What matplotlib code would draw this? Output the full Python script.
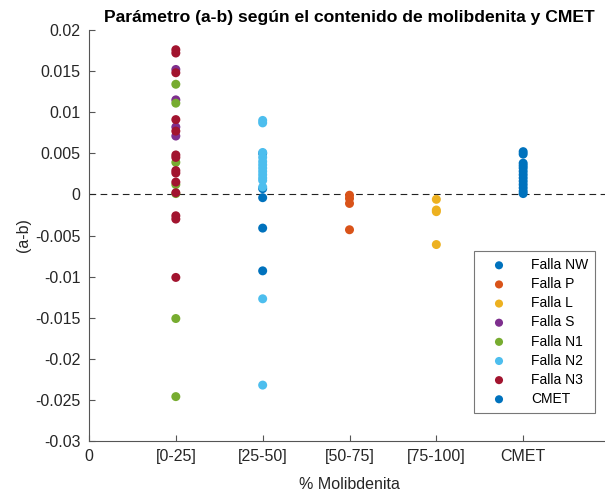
import numpy as np
import matplotlib.pyplot as plt

plt.rcParams['font.family'] = ['Liberation Sans', 'DejaVu Sans']

# category positions on the x axis
cat_labels = ['0', '[0-25]', '[25-50]', '[50-75]', '[75-100]', 'CMET']

# (a-b) values per fault, grouped by molybdenite range
nw_25_50 = [0.0050, 0.0007, -0.0004, -0.0041, -0.0093]
p_50_75 = [-0.0001, -0.0005, -0.0011, -0.0043]
l_75_100 = [-0.0006, -0.0019, -0.0021, -0.0061]
s_0_25 = [0.0152, 0.0115, 0.0082, 0.0071]
n1_0_25 = [0.0134, 0.0111, 0.0039, 0.0012, 0.0001, -0.0151, -0.0246]
n2_25_50 = [0.0090, 0.0087, 0.0051, 0.0045, 0.0040, 0.0036, 0.0032,
            0.0028, 0.0024, 0.0020, 0.0017, 0.0009, -0.0127, -0.0232]
n3_0_25 = [0.0176, 0.0172, 0.0148, 0.0091, 0.0077, 0.0048, 0.0045,
           0.0029, 0.0026, 0.0015, 0.0002, -0.0026, -0.0030, -0.0101]
cmet = [0.0052, 0.0049, 0.0038, 0.0035, 0.0032, 0.0028, 0.0024,
        0.0020, 0.0016, 0.0012, 0.0008, 0.0004, 0.0001]

series = [
    ('Falla NW', 2, nw_25_50, '#0072BD'),
    ('Falla P', 3, p_50_75, '#D95319'),
    ('Falla L', 4, l_75_100, '#EDB120'),
    ('Falla S', 1, s_0_25, '#7E2F8E'),
    ('Falla N1', 1, n1_0_25, '#77AC30'),
    ('Falla N2', 2, n2_25_50, '#4DBEEE'),
    ('Falla N3', 1, n3_0_25, '#A2142F'),
    ('CMET', 5, cmet, '#0072BD'),
]

fig = plt.figure(figsize=(6.05, 4.97), dpi=100)
ax = fig.add_axes([89 / 605, 1 - 441 / 497, (610 - 89) / 605, 411 / 497])

for name, xpos, vals, col in series:
    ax.scatter(np.full(len(vals), xpos), vals, s=42, color=col,
               edgecolors='none', label=name, zorder=3)

ax.axhline(0, color='#222222', linestyle=(0, (6, 4)), linewidth=0.8, zorder=2)

ax.set_xlim(0, 6)
ax.set_ylim(-0.03, 0.02)
ax.set_xticks(range(6))
ax.set_xticklabels(cat_labels)
ax.set_yticks(np.arange(-0.03, 0.0201, 0.005))
ax.set_yticklabels(['-0.03', '-0.025', '-0.02', '-0.015', '-0.01', '-0.005',
                    '0', '0.005', '0.01', '0.015', '0.02'])

for side in ['top', 'right']:
    ax.spines[side].set_visible(False)
for side in ['left', 'bottom']:
    ax.spines[side].set_color('#555555')
    ax.spines[side].set_linewidth(0.8)
ax.tick_params(direction='in', length=4, width=0.8, color='#555555',
               labelcolor='#262626', labelsize=11.5, pad=6)

ax.set_title('Parámetro (a-b) según el contenido de molibdenita y CMET',
             fontsize=12.6, fontweight='bold', pad=6)
ax.set_xlabel('% Molibdenita', fontsize=11.5, color='#262626', labelpad=9)
ax.set_ylabel('(a-b)', fontsize=11.5, color='#262626', labelpad=3)

leg = ax.legend(loc='upper left', bbox_to_anchor=(474 / 605, 1 - 251 / 497),
                bbox_transform=fig.transFigure, fontsize=10, frameon=True,
                fancybox=False, edgecolor='#555555', handletextpad=1.0,
                borderpad=0.5, labelspacing=0.37, markerscale=0.9,
                handlelength=2.6, borderaxespad=0)
leg.get_frame().set_linewidth(0.8)

plt.savefig('out.png', dpi=100)
plt.close()
